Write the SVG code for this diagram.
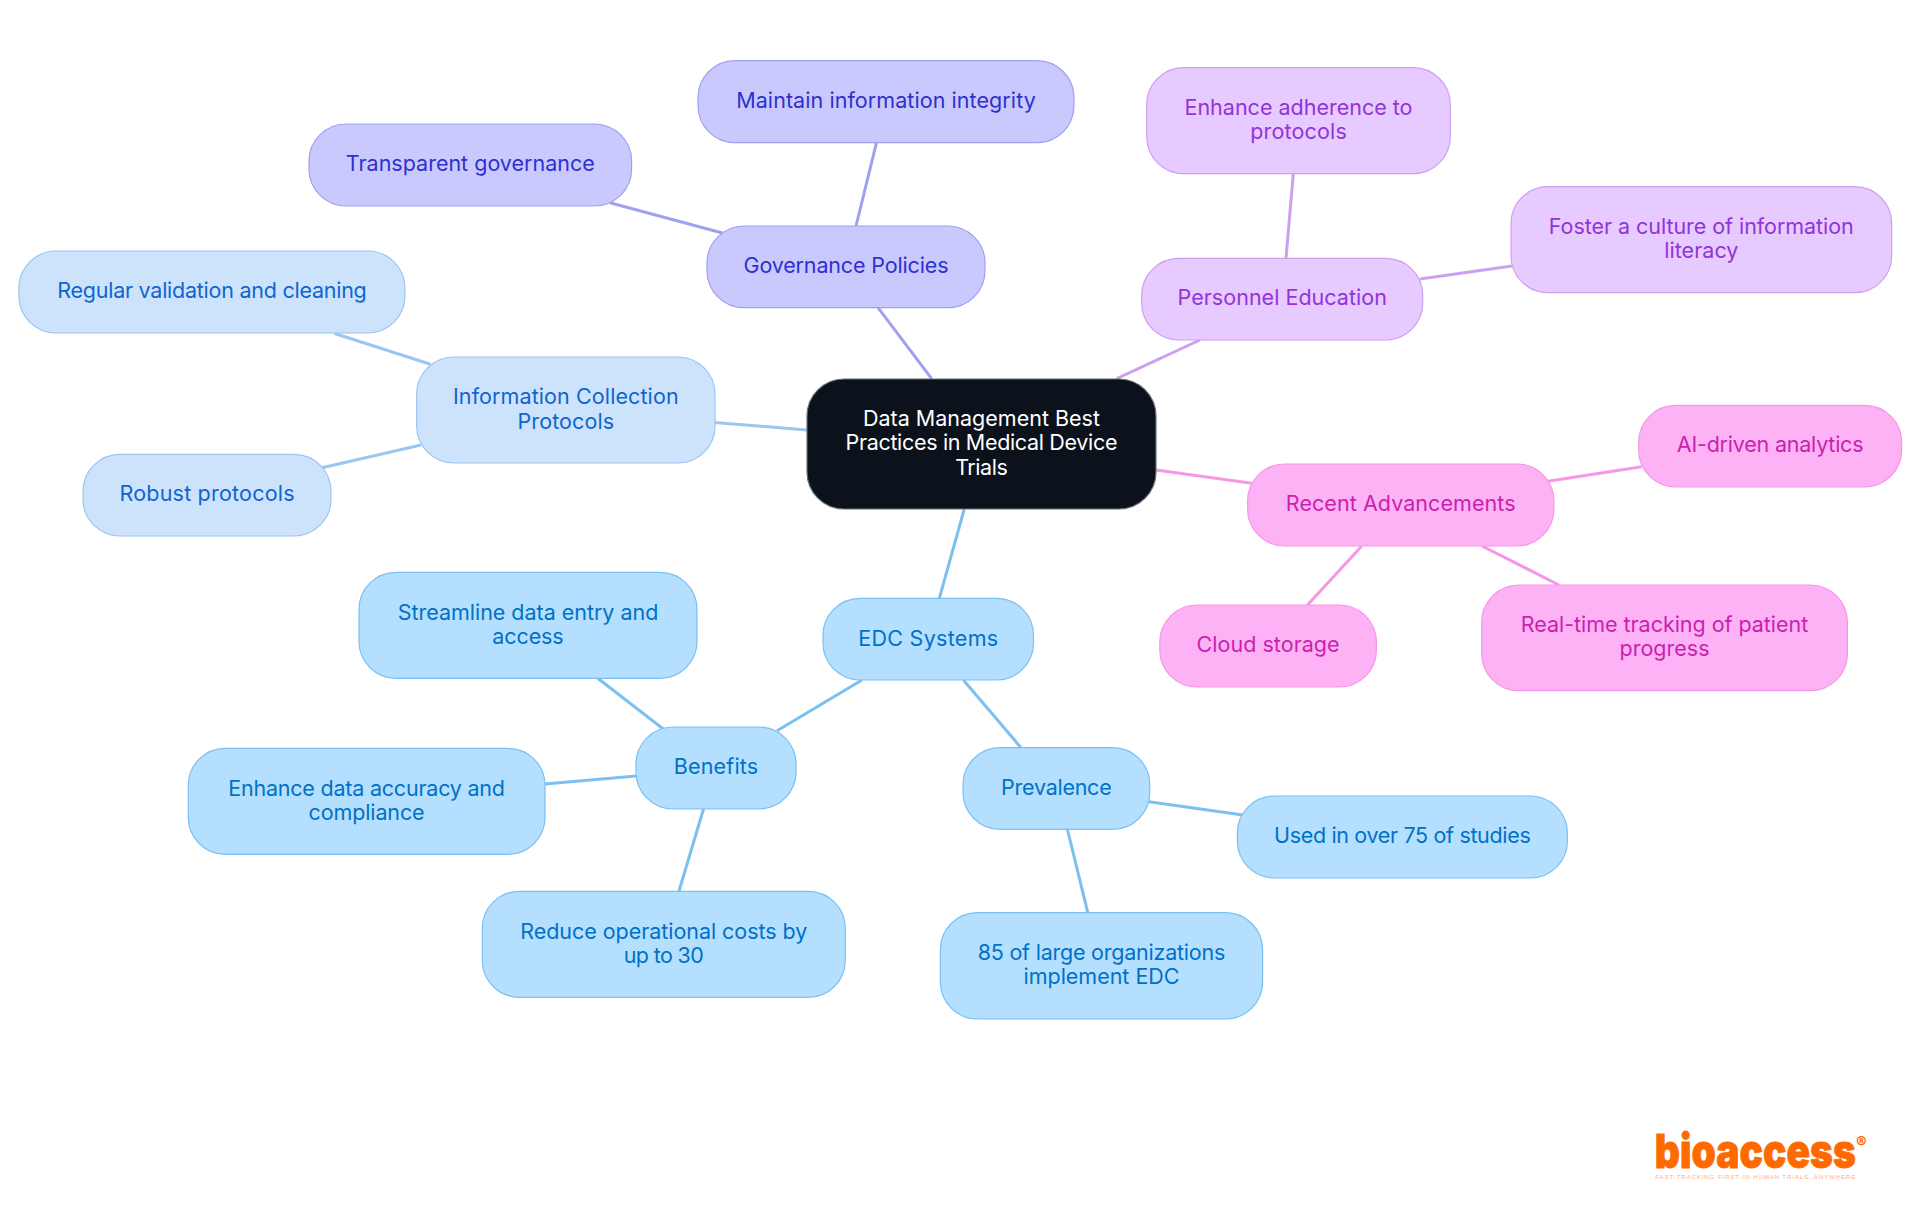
<svg xmlns="http://www.w3.org/2000/svg" width="1920" height="1215" viewBox="0 0 1920 1215">
<style>
text{font-family:"Inter","Noto Sans","Liberation Sans",sans-serif;font-size:21.5px;text-anchor:middle}
rect{stroke-width:1.2}
line{stroke-width:3;fill:none}
.c0 rect{fill:#0b121b;stroke:#6b6f75}.c0 text{fill:#fff}
.c1 rect{fill:#b4dfff;stroke:#7cc0f0}.c1 text{fill:#0071c6}
.c2 rect{fill:#cde3fc;stroke:#9cc5f0}.c2 text{fill:#0f65d0}
.c3 rect{fill:#c9c9fd;stroke:#a0a0f0}.c3 text{fill:#3030cf}
.c4 rect{fill:#e7caff;stroke:#cd9ff0}.c4 text{fill:#9333da}
.c5 rect{fill:#fdb2f5;stroke:#f596e6}.c5 text{fill:#cb1fb0}
.l1{stroke:#7cc0f0}.l2{stroke:#9cc5f0}.l3{stroke:#a0a0f0}.l4{stroke:#cd9ff0}.l5{stroke:#f596e6}
.logo{fill:#ff6a00;stroke:#ff6a00;stroke-width:.8;font-family:"Inter","Liberation Sans",sans-serif;font-weight:900;font-size:47px}
.reg{fill:#ff6a00;font-family:"Inter","Liberation Sans",sans-serif;font-weight:700;font-size:16px;text-anchor:start}
.tag{fill:#ffb07f;font-family:"Liberation Sans",sans-serif;font-size:6.2px}
</style>
<rect width="1920" height="1215" fill="#fff" style="stroke:none"/>
<g id="connectors">
<line class="l3" x1="876.5" y1="142.7" x2="856" y2="226"/>
<line class="l3" x1="610" y1="202.7" x2="722.4" y2="233"/>
<line class="l3" x1="878" y1="307.7" x2="931.6" y2="378.7"/>
<line class="l2" x1="334" y1="333.3" x2="430.4" y2="364.3"/>
<line class="l2" x1="322" y1="467.7" x2="421" y2="445"/>
<line class="l2" x1="715" y1="422.5" x2="807" y2="430"/>
<line class="l4" x1="1293.3" y1="173.7" x2="1286" y2="258.3"/>
<line class="l4" x1="1420" y1="279" x2="1512" y2="266"/>
<line class="l4" x1="1116.7" y1="378.7" x2="1200" y2="340"/>
<line class="l5" x1="1156" y1="470" x2="1251.8" y2="483.3"/>
<line class="l5" x1="1548" y1="481.3" x2="1641.7" y2="466.7"/>
<line class="l5" x1="1361.8" y1="546" x2="1307.5" y2="605"/>
<line class="l5" x1="1482" y1="546" x2="1559" y2="585"/>
<line class="l1" x1="964.3" y1="509" x2="939.3" y2="598.3"/>
<line class="l1" x1="862" y1="680" x2="777" y2="730.7"/>
<line class="l1" x1="963.4" y1="680" x2="1021" y2="747.7"/>
<line class="l1" x1="597.7" y1="678.3" x2="663.3" y2="729"/>
<line class="l1" x1="545" y1="784" x2="636" y2="776"/>
<line class="l1" x1="703.5" y1="809" x2="679" y2="891"/>
<line class="l1" x1="1149" y1="801.7" x2="1243" y2="815"/>
<line class="l1" x1="1067.4" y1="829.3" x2="1087.8" y2="912.7"/>
</g>
<g id="central" class="c0"><rect x="807" y="379" width="349" height="130" rx="37"/>
<text x="981.5" y="425.7" textLength="237">Data Management Best</text>
<text x="981.5" y="450" textLength="272">Practices in Medical Device</text>
<text x="981.5" y="475" textLength="52.7">Trials</text></g>
<g id="governance" class="c3"><rect x="707" y="226" width="278" height="81.7" rx="37"/>
<text x="846" y="273" textLength="205">Governance Policies</text></g>
<g id="maintain" class="c3"><rect x="698" y="60.7" width="376" height="82" rx="37"/>
<text x="886" y="108.3" textLength="299.5">Maintain information integrity</text></g>
<g id="transparent" class="c3"><rect x="309" y="124" width="322.6" height="82" rx="37"/>
<text x="470.3" y="171.3" textLength="249">Transparent governance</text></g>
<g id="info" class="c2"><rect x="416.7" y="357" width="298.3" height="106" rx="37"/>
<text x="565.8" y="404" textLength="225.6">Information Collection</text>
<text x="565.8" y="428.5" textLength="96.7">Protocols</text></g>
<g id="regular" class="c2"><rect x="18.9" y="251" width="386" height="82" rx="37"/>
<text x="212" y="298" textLength="309.6">Regular validation and cleaning</text></g>
<g id="robust" class="c2"><rect x="83" y="454.3" width="248" height="81.7" rx="37"/>
<text x="207" y="501.3" textLength="175">Robust protocols</text></g>
<g id="personnel" class="c4"><rect x="1141.7" y="258.3" width="281" height="81.7" rx="37"/>
<text x="1282.2" y="305" textLength="209.3">Personnel Education</text></g>
<g id="adherence" class="c4"><rect x="1146.7" y="67.7" width="303.6" height="106" rx="37"/>
<text x="1298.5" y="115" textLength="228">Enhance adherence to</text>
<text x="1298.5" y="139.3" textLength="96.7">protocols</text></g>
<g id="foster" class="c4"><rect x="1511" y="186.7" width="380.7" height="106" rx="37"/>
<text x="1701.3" y="234" textLength="305">Foster a culture of information</text>
<text x="1701.3" y="258.3" textLength="74.3">literacy</text></g>
<g id="recent" class="c5"><rect x="1247.6" y="464" width="306.3" height="82" rx="37"/>
<text x="1400.7" y="511" textLength="229.8">Recent Advancements</text></g>
<g id="ai" class="c5"><rect x="1638.7" y="405.3" width="263" height="81.7" rx="37"/>
<text x="1770.2" y="452.3" textLength="186.7">AI-driven analytics</text></g>
<g id="cloud" class="c5"><rect x="1159.8" y="605" width="216.6" height="82" rx="37"/>
<text x="1268.1" y="652" textLength="143">Cloud storage</text></g>
<g id="realtime" class="c5"><rect x="1481.7" y="585" width="365.7" height="105.7" rx="37"/>
<text x="1664.5" y="632" textLength="287.4">Real-time tracking of patient</text>
<text x="1664.5" y="656" textLength="90">progress</text></g>
<g id="edc" class="c1"><rect x="823" y="598.3" width="210.5" height="81.7" rx="37"/>
<text x="928.2" y="646" textLength="140">EDC Systems</text></g>
<g id="benefits" class="c1"><rect x="636" y="727" width="160" height="82" rx="37"/>
<text x="716" y="773.7" textLength="84.4">Benefits</text></g>
<g id="streamline" class="c1"><rect x="359" y="572.3" width="338" height="106" rx="37"/>
<text x="528" y="620" textLength="260.7">Streamline data entry and</text>
<text x="528" y="644" textLength="71.4">access</text></g>
<g id="accuracy" class="c1"><rect x="188.3" y="748.3" width="356.7" height="106" rx="37"/>
<text x="366.6" y="796" textLength="276.8">Enhance data accuracy and</text>
<text x="366.6" y="820" textLength="116">compliance</text></g>
<g id="reduce" class="c1"><rect x="482.3" y="891.3" width="363" height="106" rx="37"/>
<text x="663.8" y="938.7" textLength="287">Reduce operational costs by</text>
<text x="663.8" y="962.7" textLength="80">up to 30</text></g>
<g id="prevalence" class="c1"><rect x="963" y="747.7" width="186.8" height="81.6" rx="37"/>
<text x="1056.4" y="795" textLength="110.6">Prevalence</text></g>
<g id="used" class="c1"><rect x="1237.4" y="796" width="330" height="82" rx="37"/>
<text x="1402.4" y="843.3" textLength="256.7">Used in over 75 of studies</text></g>
<g id="large" class="c1"><rect x="940.4" y="912.7" width="322.2" height="106.3" rx="37"/>
<text x="1101.5" y="960" textLength="247.6">85 of large organizations</text>
<text x="1101.5" y="984" textLength="156">implement EDC</text></g>
<g id="logo">
<text class="logo" x="1755.3" y="1168.3" textLength="201" lengthAdjust="spacingAndGlyphs">bioaccess</text>
<text class="reg" x="1856" y="1147.5">®</text>
<text class="tag" x="1755.3" y="1179.3" textLength="200">FAST-TRACKING FIRST-IN-HUMAN TRIALS, ANYWHERE</text>
</g>
</svg>
